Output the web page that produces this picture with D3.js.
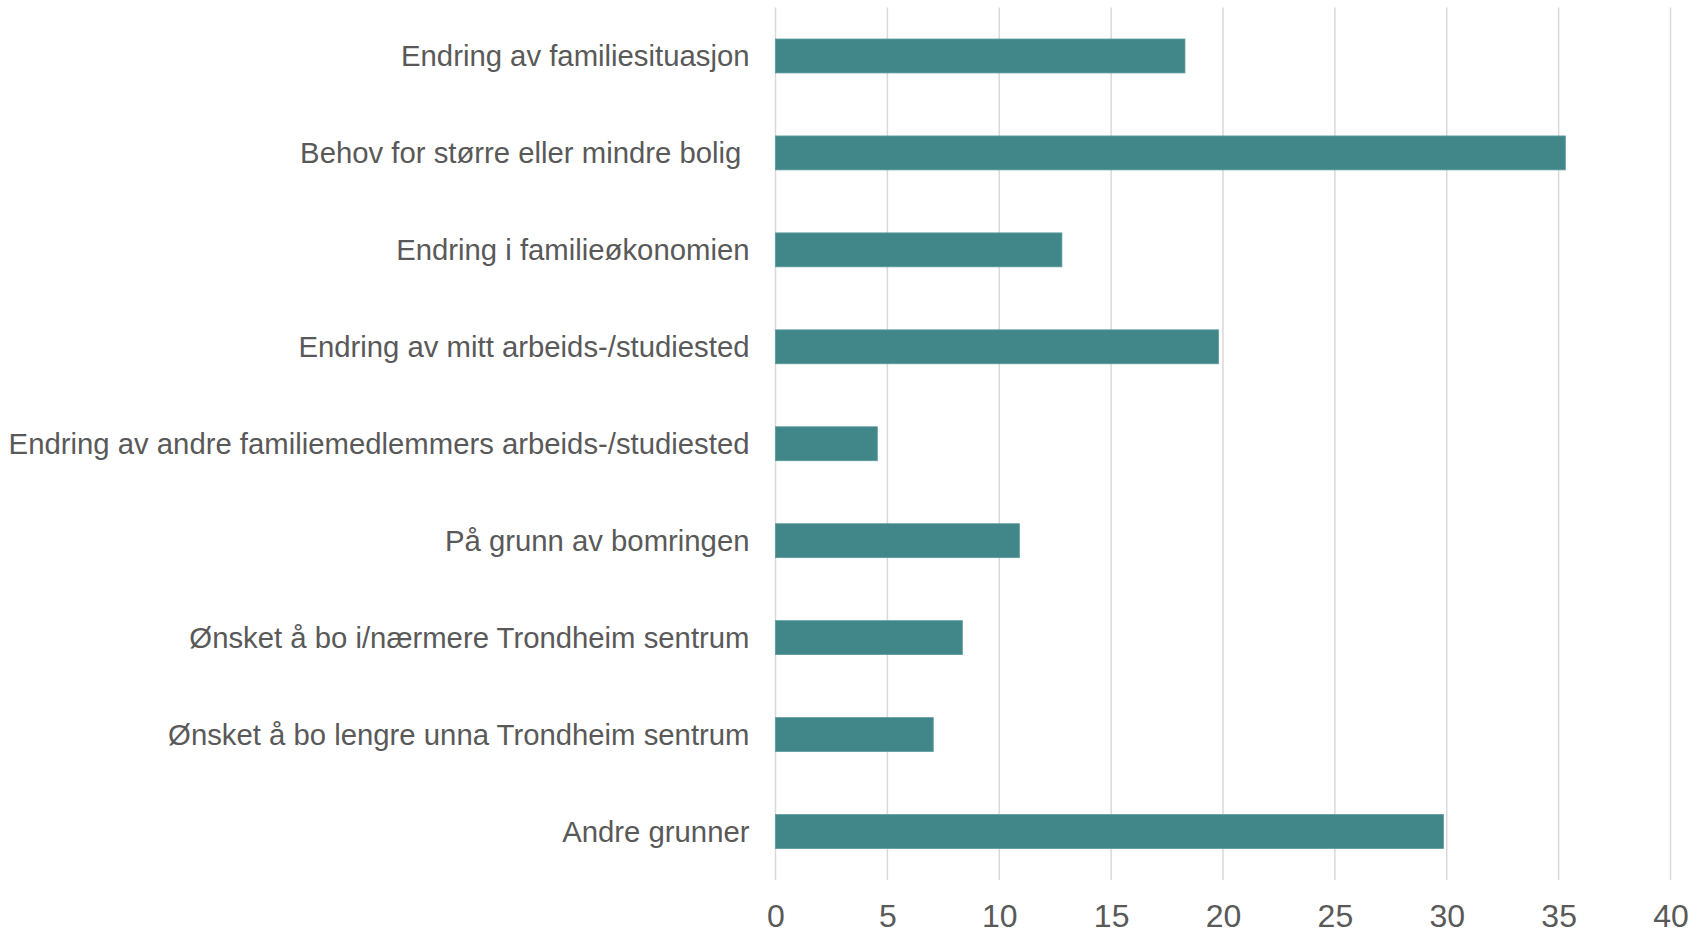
<!DOCTYPE html>
<html>
<head>
<meta charset="utf-8">
<script src="https://cdn.jsdelivr.net/npm/d3@7"></script>
<style>
  html, body { margin: 0; padding: 0; background: #fff; overflow: hidden; }
  svg { display: block; }
  text { font-family: "Liberation Sans", Arial, sans-serif; fill: #595959; white-space: pre; }
</style>
</head>
<body>
<script>
const categories = [
  "Endring av familiesituasjon",
  "Behov for større eller mindre bolig ",
  "Endring i familieøkonomien",
  "Endring av mitt arbeids-/studiested",
  "Endring av andre familiemedlemmers arbeids-/studiested",
  "På grunn av bomringen",
  "Ønsket å bo i/nærmere Trondheim sentrum",
  "Ønsket å bo lengre unna Trondheim sentrum",
  "Andre grunner"
];
const values = [18.3, 35.3, 12.8, 19.8, 4.55, 10.9, 8.35, 7.05, 29.85];
const xTicks = [0, 5, 10, 15, 20, 25, 30, 35, 40];

const W = 1703, H = 934;
const svg = d3.select("body").append("svg").attr("width", W).attr("height", H);

const x = d3.scaleLinear().domain([0, 40]).range([775.5, 1670.5]);
const y = d3.scaleBand().domain(categories).range([7.5, 880]).paddingInner(0.65).paddingOuter(0.325);

// gridlines
svg.append("g")
  .selectAll("line")
  .data(xTicks)
  .join("line")
  .attr("x1", d => x(d)).attr("x2", d => x(d))
  .attr("y1", 7.5).attr("y2", 880)
  .attr("stroke", "#d9d9d9").attr("stroke-width", 1.5);

// bars
svg.append("g")
  .selectAll("rect")
  .data(values)
  .join("rect")
  .attr("x", x(0))
  .attr("y", (d, i) => y(categories[i]))
  .attr("width", d => x(d) - x(0))
  .attr("height", y.bandwidth())
  .attr("fill", "#41878a")
  .attr("stroke", "#5c9a9d").attr("stroke-width", 0.8);

// y labels via axis
const yAxis = d3.axisLeft(y).tickSize(0).tickPadding(26);
const gy = svg.append("g").attr("transform", `translate(${x(0)},0)`).call(yAxis);
gy.select(".domain").remove();
gy.selectAll("text")
  .attr("font-size", 29.3)
  .attr("font-family", "Liberation Sans, Arial, sans-serif")
  .attr("fill", "#595959")
  .attr("dy", "0.35em");

// x axis
const xAxis = d3.axisBottom(x).tickValues(xTicks).tickSize(0).tickPadding(0).tickFormat(d3.format("d"));
const gx = svg.append("g").attr("transform", `translate(0,880)`).call(xAxis);
gx.select(".domain").remove();
gx.selectAll("text")
  .attr("font-size", 32)
  .attr("font-family", "Liberation Sans, Arial, sans-serif")
  .attr("fill", "#595959")
  .attr("y", 47)
  .attr("dy", 0);
</script>
</body>
</html>
